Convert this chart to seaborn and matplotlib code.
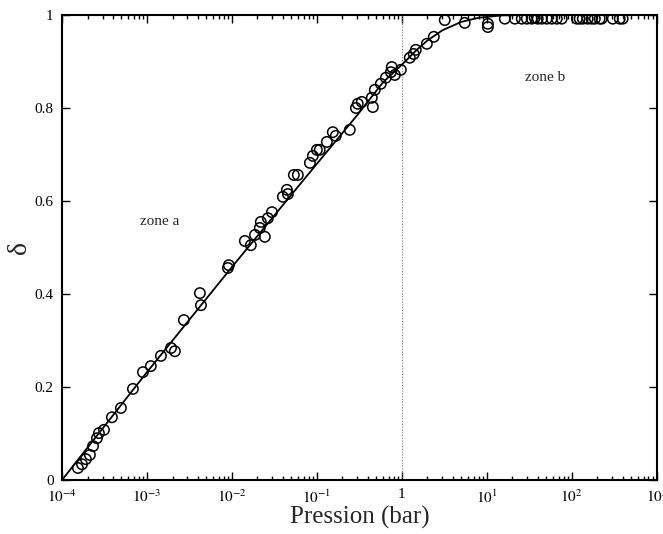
import numpy as np
import pandas as pd
import matplotlib
matplotlib.use('Agg')
import matplotlib.pyplot as plt
import matplotlib.ticker as mticker
import seaborn as sns

# =============================================
# DATA
# =============================================
pressure = [1.54e-4, 1.72e-4, 1.91e-4, 2.13e-4, 2.32e-4, 2.58e-4, 2.72e-4, 3.12e-4,
            3.87e-4, 4.94e-4, 6.84e-4, 8.97e-4, 1.11e-3, 1.46e-3, 1.92e-3, 2.13e-3,
            2.72e-3, 4.2e-3, 4.32e-3, 8.97e-3, 9.2e-3, 1.42e-2, 1.67e-2, 1.87e-2,
            2.13e-2, 2.19e-2, 2.44e-2, 2.65e-2, 2.96e-2, 3.98e-2, 4.44e-2, 4.56e-2,
            5.36e-2, 5.97e-2, 8.28e-2, 8.97e-2, 0.1, 0.108, 0.131, 0.154, 0.167,
            0.244, 0.288, 0.303, 0.338, 0.443, 0.456, 0.481, 0.566, 0.649, 0.743,
            0.762, 0.828, 0.973, 1.24, 1.38, 1.46, 1.97, 2.38, 3.2, 5.5, 10.3, 10.3,
            16.3, 21.4, 25.8, 29.6, 33.8, 36.7, 39.8, 44.4, 50.8, 58.2, 66.7, 76.3,
            115, 124, 135, 154, 172, 187, 213, 225, 304, 367, 398]
delta = [0.026, 0.034, 0.045, 0.054, 0.073, 0.090, 0.101, 0.108,
         0.135, 0.155, 0.196, 0.232, 0.245, 0.267, 0.284, 0.277,
         0.344, 0.402, 0.376, 0.456, 0.462, 0.514, 0.505, 0.527,
         0.542, 0.555, 0.523, 0.563, 0.576, 0.609, 0.624, 0.615,
         0.656, 0.656, 0.682, 0.697, 0.710, 0.710, 0.727, 0.748, 0.740,
         0.753, 0.800, 0.809, 0.813, 0.822, 0.802, 0.839, 0.852, 0.865, 0.877,
         0.888, 0.871, 0.882, 0.908, 0.916, 0.925, 0.938, 0.953, 0.989, 0.983, 0.981, 0.974,
         0.992, 0.992, 0.992, 0.992, 0.992, 0.994, 0.992, 0.992, 0.992, 0.992, 0.992, 0.992,
         0.992, 0.992, 0.992, 0.992, 0.992, 0.992, 0.992, 0.992, 0.992, 0.992, 0.992]

curve_p = [1e-4, 1e-3, 1e-2, 0.1, 0.3, 0.6, 1.0, 1.5, 2.0, 3.0, 5.0, 8.0, 15.0, 30.0, 1000.0]
curve_d = [0.0, 0.232, 0.458, 0.68, 0.785, 0.855, 0.893, 0.925, 0.945, 0.967, 0.985, 0.994, 0.999, 1.0, 1.0]

xtick_vals = [1e-4, 1e-3, 1e-2, 1e-1, 1, 1e1, 1e2, 1e3]
xtick_labels = ['$10^{-4}$', '$10^{-3}$', '$10^{-2}$', '$10^{-1}$', '1',
                '$10^{1}$', '$10^{2}$', '$10^{3}$']
ytick_vals = [0, 0.2, 0.4, 0.6, 0.8, 1]
ytick_labels = ['0', '0.2', '0.4', '0.6', '0.8', '1']

# =============================================
# STYLE
# =============================================
sns.set_style('ticks')
plt.rcParams['font.family'] = ['Liberation Serif', 'DejaVu Serif']
plt.rcParams['mathtext.fontset'] = 'stix'

df = pd.DataFrame({'p': pressure, 'd': delta})
fit = pd.DataFrame({'p': curve_p, 'd': curve_d})

fig = plt.figure(figsize=(6.63, 5.34), dpi=100)
ax = fig.add_axes([0.0935, 0.101, 0.897, 0.871])

ax.axvline(1.0, color='#777777', linestyle=(0, (1, 1.5)), linewidth=0.8, zorder=1)
sns.lineplot(data=fit, x='p', y='d', ax=ax, color='black', linewidth=1.3,
             sort=False, estimator=None, zorder=2)
sns.scatterplot(data=df, x='p', y='d', ax=ax, marker='o', s=56,
                facecolor='none', edgecolor='black', linewidth=1.1, zorder=3)

ax.set_xscale('log')
ax.set_xlim(1e-4, 1e3)
ax.set_ylim(0, 1)

ax.xaxis.set_major_locator(mticker.FixedLocator(xtick_vals))
ax.xaxis.set_major_formatter(mticker.FixedFormatter(xtick_labels))
ax.xaxis.set_minor_locator(mticker.LogLocator(base=10, subs=np.arange(2, 10), numticks=20))
ax.xaxis.set_minor_formatter(mticker.NullFormatter())
ax.set_yticks(ytick_vals)
ax.set_yticklabels(ytick_labels)

ax.tick_params(which='both', direction='in', top=True, right=True, labelsize=11,
               width=1.0, color='black', labelcolor='black')
ax.tick_params(which='major', length=6, pad=6)
ax.tick_params(which='minor', length=3)
for s in ax.spines.values():
    s.set_linewidth(1.5)
    s.set_color('black')

ax.set_xlabel('Pression (bar)', fontsize=18, labelpad=0)
ax.set_ylabel('δ', fontsize=20, labelpad=2)

ax.text(1.4e-3, 0.555, 'zone a', fontsize=11, ha='center', va='center')
ax.text(48, 0.865, 'zone b', fontsize=11, ha='center', va='center')

fig.savefig('out.png', dpi=100)
